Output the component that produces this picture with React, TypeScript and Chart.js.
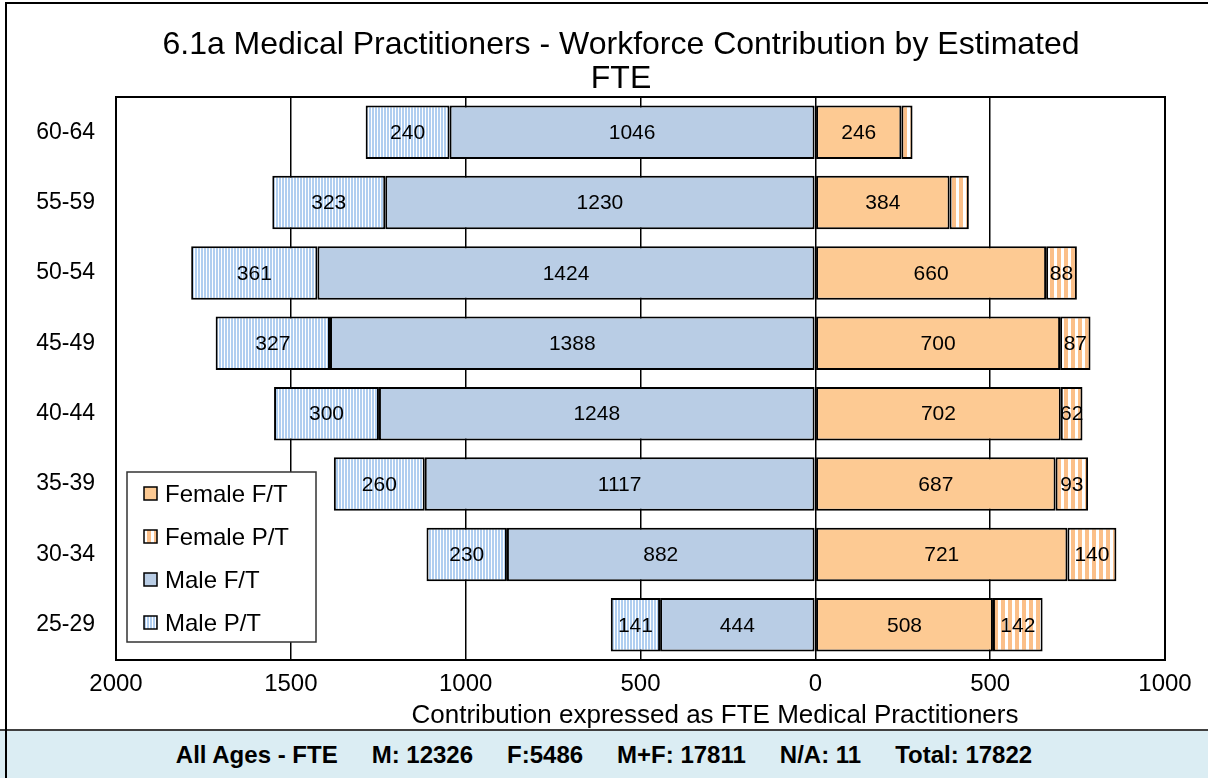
import React, { useEffect, useRef } from 'react';
import { Chart, registerables } from 'chart.js';
Chart.register(...registerables);

const ageGroups = ['60-64', '55-59', '50-54', '45-49', '40-44', '35-39', '30-34', '25-29'];
const femaleFT = [246, 384, 660, 700, 702, 687, 721, 508];
const femalePT = [32, 55, 88, 87, 62, 93, 140, 142];
const maleFT = [1046, 1230, 1424, 1388, 1248, 1117, 882, 444];
const malePT = [240, 323, 361, 327, 300, 260, 230, 141];
const seriesNames = ['Female F/T', 'Female P/T', 'Male F/T', 'Male P/T'];
const axisMin = -2000;
const axisMax = 1000;
const axisStep = 500;
const chartTitle = ['6.1a Medical Practitioners - Workforce Contribution by Estimated', 'FTE'];
const axisTitle = 'Contribution expressed as FTE Medical Practitioners';
const summaryParts = ['All Ages - FTE', 'M: 12326', 'F:5486', 'M+F: 17811', 'N/A: 11', 'Total: 17822'];
const labelThreshold = 60;

const FONT = '"Liberation Sans", Arial, sans-serif';
const FEMALE_FT = '#fdca93';
const FEMALE_STRIPE = '#fbbf88';
const MALE_FT = '#b9cde5';
const MALE_STRIPE = '#b0cef0';

function makePattern(w: number, stripe: number, color: string): CanvasPattern | string {
  const c = document.createElement('canvas');
  c.width = w;
  c.height = 4;
  const x = c.getContext('2d');
  if (!x) return color;
  x.fillStyle = '#ffffff';
  x.fillRect(0, 0, w, 4);
  x.fillStyle = color;
  x.fillRect(0, 0, stripe, 4);
  const p = x.createPattern(c, 'repeat');
  return p || color;
}

export default function App() {
  const ref = useRef<HTMLCanvasElement>(null);

  useEffect(() => {
    if (!ref.current) return;
    const femalePattern = makePattern(7, 4, FEMALE_STRIPE);
    const malePattern = makePattern(3, 2, MALE_STRIPE);
    const fills = [FEMALE_FT, femalePattern, MALE_FT, malePattern];

    const overlay = {
      id: 'overlay',
      beforeDraw(chart: any) {
        const ctx = chart.ctx;
        ctx.save();
        ctx.fillStyle = '#ffffff';
        ctx.fillRect(0, 0, chart.width, chart.height);
        ctx.fillStyle = '#000';
        ctx.font = `32px ${FONT}`;
        ctx.textAlign = 'center';
        ctx.textBaseline = 'middle';
        ctx.fillText(chartTitle[0], 621, 45);
        ctx.fillText(chartTitle[1], 621, 79);
        ctx.restore();
      },
      afterDatasetsDraw(chart: any) {
        const ctx = chart.ctx;
        ctx.save();
        ctx.font = `21px ${FONT}`;
        ctx.fillStyle = '#000';
        ctx.textAlign = 'center';
        ctx.textBaseline = 'middle';
        chart.data.datasets.forEach((ds: any, i: number) => {
          const meta = chart.getDatasetMeta(i);
          meta.data.forEach((bar: any, j: number) => {
            const v = ds.data[j];
            if (Math.abs(v) < labelThreshold) return;
            const p = bar.getProps(['x', 'y', 'base'], true);
            ctx.fillText(String(Math.abs(v)), (p.x + p.base) / 2, p.y + 1);
          });
        });
        ctx.restore();
      },
      afterDraw(chart: any) {
        const ctx = chart.ctx;
        const a = chart.chartArea;
        ctx.save();
        ctx.strokeStyle = '#000';
        ctx.lineWidth = 2;
        ctx.strokeRect(a.left, a.top, a.right - a.left, a.bottom - a.top);
        // axis title
        ctx.fillStyle = '#000';
        ctx.font = `26px ${FONT}`;
        ctx.textAlign = 'center';
        ctx.textBaseline = 'middle';
        ctx.fillText(axisTitle, 715, 716);
        // legend
        const lx = 127, ly = 472, lw = 189, lh = 170;
        ctx.fillStyle = '#fff';
        ctx.fillRect(lx, ly, lw, lh);
        ctx.strokeStyle = '#333';
        ctx.lineWidth = 1.5;
        ctx.strokeRect(lx, ly, lw, lh);
        ctx.font = `24px ${FONT}`;
        ctx.textAlign = 'left';
        seriesNames.forEach((name, i) => {
          const cy = 494 + i * 43;
          ctx.fillStyle = fills[i] as any;
          ctx.fillRect(144, cy - 7, 13, 13);
          ctx.strokeStyle = '#000';
          ctx.lineWidth = 1.5;
          ctx.strokeRect(144, cy - 7, 13, 13);
          ctx.fillStyle = '#000';
          ctx.fillText(name, 165, cy + 1);
        });
        ctx.restore();
      },
    };

    const chart = new Chart(ref.current, {
      type: 'bar',
      data: {
        labels: ageGroups,
        datasets: [
          { label: seriesNames[0], data: femaleFT, backgroundColor: fills[0] as any },
          { label: seriesNames[1], data: femalePT, backgroundColor: fills[1] as any },
          { label: seriesNames[2], data: maleFT.map((v) => -v), backgroundColor: fills[2] as any },
          { label: seriesNames[3], data: malePT.map((v) => -v), backgroundColor: fills[3] as any },
        ].map((d) => ({
          ...d,
          borderColor: '#000',
          borderWidth: 2,
          borderSkipped: false,
          categoryPercentage: 0.76,
          barPercentage: 1,
        })),
      },
      options: {
        indexAxis: 'y',
        responsive: false,
        animation: false,
        layout: { padding: { top: 97, right: 43, left: 0, bottom: 0 } },
        plugins: {
          legend: { display: false },
          title: { display: false },
          tooltip: { enabled: false },
        },
        scales: {
          x: {
            stacked: true,
            min: axisMin,
            max: axisMax,
            border: { display: false },
            grid: { color: '#000', lineWidth: 1.5, drawTicks: false },
            ticks: {
              stepSize: axisStep,
              padding: 10,
              color: '#000',
              font: { size: 24, family: FONT },
              callback: (v: any) => String(Math.abs(Number(v))),
              maxRotation: 0,
            },
            afterFit: (s: any) => {
              s.height = 70;
            },
          },
          y: {
            stacked: true,
            border: { display: false },
            grid: { display: false, drawTicks: false },
            ticks: {
              padding: 21,
              color: '#000',
              font: { size: 23, family: FONT },
            },
            afterFit: (s: any) => {
              s.width = 116;
            },
          },
        },
      } as any,
      plugins: [overlay],
    });
    return () => chart.destroy();
  }, []);

  return (
    <div style={{ position: 'fixed', left: 0, top: 0, width: 1208, height: 778, background: '#fff', overflow: 'hidden' }}>
      <canvas ref={ref} width={1208} height={730} style={{ position: 'absolute', left: 0, top: 0, width: 1208, height: 730 }} />
      <div
        style={{
          position: 'absolute',
          left: 0,
          top: 729,
          width: 1208,
          height: 49,
          background: '#dbedf3',
          borderTop: '2px solid #404040',
          boxSizing: 'border-box',
          display: 'flex',
          alignItems: 'center',
          justifyContent: 'center',
          gap: 34,
          fontFamily: FONT,
          fontWeight: 'bold',
          fontSize: 24,
          whiteSpace: 'pre',
          color: '#000',
        }}
      >
        {summaryParts.map((p, i) => (
          <span key={i}>{p}</span>
        ))}
      </div>
      <div
        style={{
          position: 'absolute',
          left: 5,
          top: 2,
          width: 1210,
          height: 780,
          borderLeft: '2px solid #000',
          borderTop: '2px solid #000',
          pointerEvents: 'none',
        }}
      />
    </div>
  );
}
